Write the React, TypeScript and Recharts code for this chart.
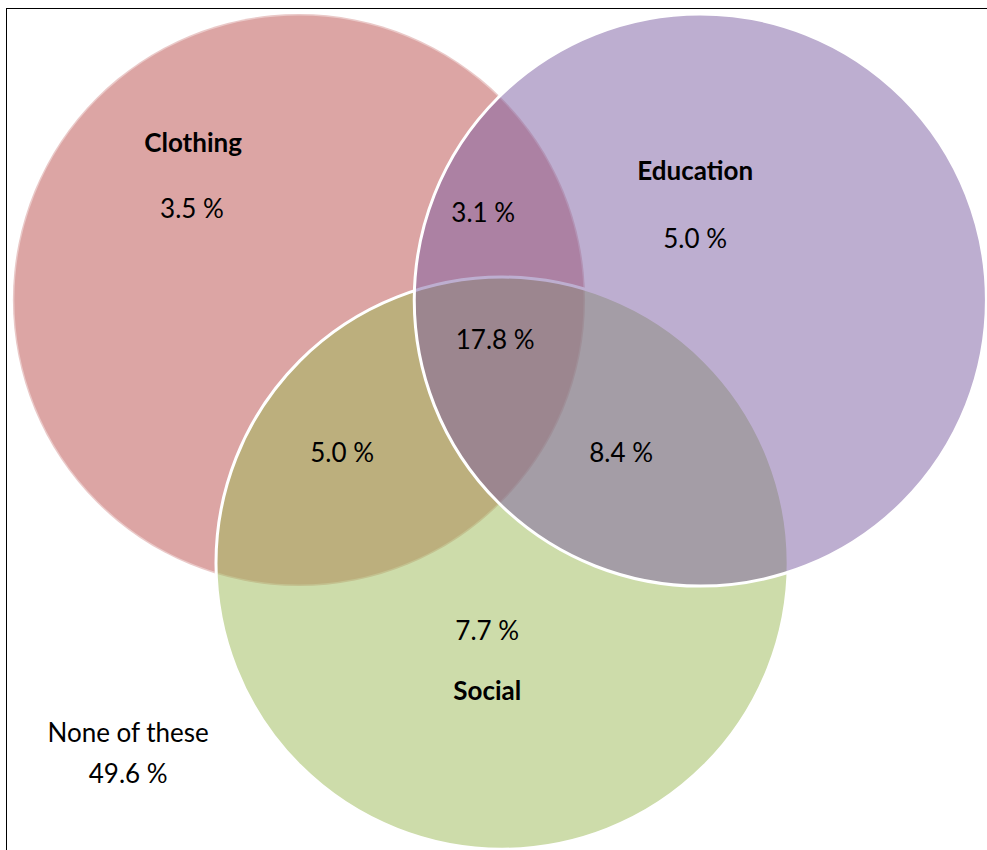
import { ScatterChart, Scatter, XAxis, YAxis, ZAxis } from 'recharts';

// three sets, radius = 100 diagram units
const setNames = ['Clothing', 'Education', 'Social'];
const setOnlyShares = ['3.5 %', '5.0 %', '7.7 %'];
const setCenterX = [104.5, 244.8, 175.5];
const setCenterY = [104.9, 104.9, 196.9];
const setRadius = [100, 100, 100];

// where the set names and their "only" shares sit
const nameX = [67.5, 243.0, 170.3];
const nameY = [53.1, 62.9, 244.8];
const onlyX = [67.1, 243.0, 170.3];
const onlyY = [76.2, 86.7, 223.8];

// overlaps
const overlapShares = ['3.1 %', '17.8 %', '5.0 %', '8.4 %'];
const overlapX = [168.9, 173.1, 119.6, 217.1];
const overlapY = [77.6, 122.0, 161.5, 161.5];

// outside all circles
const noneLines = ['None of these', '49.6 %'];
const noneX = [44.8, 44.8];
const noneY = [259.4, 273.8];

const X_MAX = 345;
const Y_MAX = 297.2;
const W = 987;
const H = 850;
const PX = W / X_MAX;

const fills = ['#dca5a4', 'rgb(123,93,161)', 'rgb(155,185,85)'];
const opacities = [1, 0.5, 0.5];
const strokeOpacity = [0.4, 1, 1];
// clothing at the bottom, then social, education on top
const drawOrder = [0, 2, 1];

const circles = setNames.map((name, i) => ({
  name,
  x: setCenterX[i],
  y: setCenterY[i],
  area: Math.PI * setRadius[i] * setRadius[i],
}));
const maxArea = Math.max(...circles.map((c) => c.area));

const labels = [
  ...setNames.map((t, i) => ({ text: t, x: nameX[i], y: nameY[i], bold: true })),
  ...setOnlyShares.map((t, i) => ({ text: t, x: onlyX[i], y: onlyY[i], bold: false })),
  ...overlapShares.map((t, i) => ({ text: t, x: overlapX[i], y: overlapY[i], bold: false })),
  ...noneLines.map((t, i) => ({ text: t, x: noneX[i], y: noneY[i], bold: false })),
].map((d) => ({ ...d, area: 0 }));

const makeCircle = (idx: number) => (props: any) => {
  const { cx, cy, width } = props;
  return (
    <circle
      cx={cx}
      cy={cy}
      r={width / 2}
      fill={fills[idx]}
      fillOpacity={opacities[idx]}
      stroke="#fff"
      strokeOpacity={strokeOpacity[idx]}
      strokeWidth={3}
    />
  );
};

const LabelMark = (props: any) => {
  const { cx, cy, payload } = props;
  return (
    <text
      x={cx}
      y={cy}
      textAnchor="middle"
      fontFamily="Lato, 'Open Sans', sans-serif"
      fontSize={26}
      fontWeight={payload.bold ? 700 : 400}
      fill="#000"
    >
      {payload.text}
    </text>
  );
};

export default function App() {
  return (
    <div style={{ position: 'absolute', left: 0, top: 0, width: W, height: H, background: '#fff' }}>
      <ScatterChart width={W} height={H} margin={{ top: 0, right: 0, bottom: 0, left: 0 }}>
        <XAxis type="number" dataKey="x" domain={[0, X_MAX]} hide allowDataOverflow />
        <YAxis type="number" dataKey="y" domain={[0, Y_MAX]} reversed hide allowDataOverflow />
        <ZAxis type="number" dataKey="area" domain={[0, maxArea]} range={[0, maxArea * PX * PX]} />
        {drawOrder.map((idx) => (
          <Scatter
            key={setNames[idx]}
            name={setNames[idx]}
            data={[circles[idx]]}
            shape={makeCircle(idx)}
            isAnimationActive={false}
          />
        ))}
        <Scatter name="labels" data={labels} shape={LabelMark} isAnimationActive={false} />
      </ScatterChart>
      <div
        style={{
          position: 'absolute',
          left: 6,
          top: 8,
          width: W - 6,
          height: H - 8,
          borderTop: '1.5px solid #000',
          borderLeft: '1.5px solid #000',
          boxSizing: 'border-box',
          pointerEvents: 'none',
        }}
      />
    </div>
  );
}
